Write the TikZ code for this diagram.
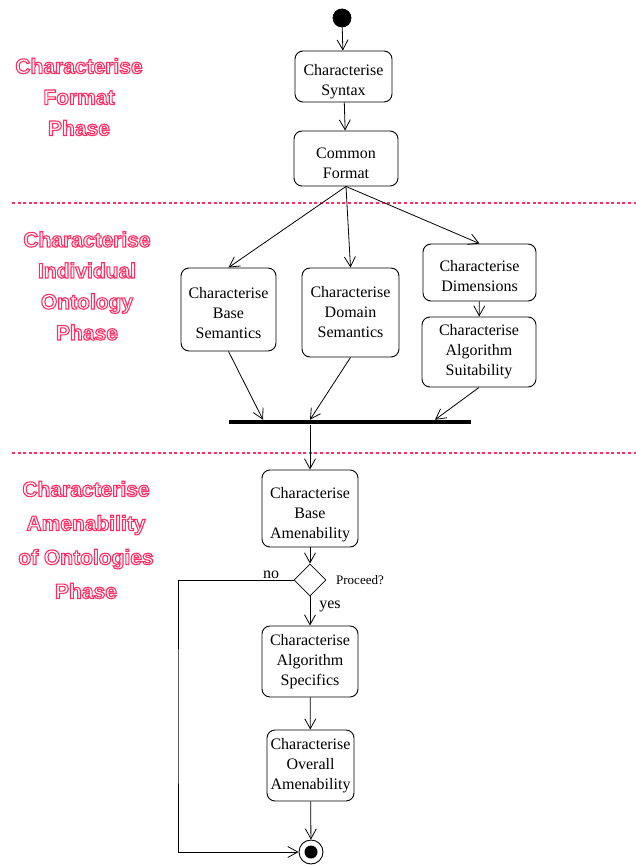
\documentclass[tikz,border=0pt]{standalone}
\usepackage{fontspec}
\setmainfont{Liberation Serif}
\newfontfamily\phasefont{Liberation Sans}
\usetikzlibrary{arrows.meta,shapes.geometric}
\definecolor{phasered}{RGB}{255,45,100}
% hollow lettering for the phase titles
\newcommand\olword[1]{\special{pdf:literal direct 1 Tr 1.1 w}#1\special{pdf:literal direct 0 Tr}}
% extra room above the first line of an action box
\newcommand\lift[1]{\rule{0pt}{#1}}
\tikzset{
  activity/.style = {draw, rounded corners=8pt, align=center, inner sep=0pt,
    line width=0.9pt, font=\fontsize{16}{20}\selectfont},% etat d'action
  initial/.style = {circle, draw, fill=black, minimum size=18pt, inner sep=0pt},% depart
  final/.style = {circle, draw, line width=0.9pt, minimum size=24pt, inner sep=0pt,
    path picture={\fill (path picture bounding box.center) circle (6.5pt);}},% fin
  syncbar/.style = {rectangle, fill=black, minimum width=242pt,
    minimum height=4.5pt, inner sep=0pt},% barre de synchronisation
  choice/.style = {diamond, draw, line width=0.8pt, minimum width=32pt,
    minimum height=32pt, inner sep=0pt, aspect=1},% decision
  guard/.style = {inner sep=0pt, font=\fontsize{16}{20}\selectfont},% garde
  phase/.style = {align=center, inner sep=0pt, text=phasered,
    font=\phasefont\bfseries\fontsize{21}{31}\selectfont},% titre de phase
  divider/.style = {-, phasered, line width=2.8pt, dash pattern=on 3pt off 2.6pt}% separation
}
\begin{document}
\begin{tikzpicture}[->,>={Straight Barb[length=10pt,width=11pt]},line width=0.8pt,
  x=1pt,y=-1pt]
\useasboundingbox (0,0) rectangle (636,866);

% phases
\node [phase] (phformat) at (79,97) {\olword{Characterise}\\\olword{Format}\\\olword{Phase}};
\node [phase] (phindiv) at (87,286) {\olword{Characterise}\\\olword{Individual}\\
  \olword{Ontology}\\\olword{Phase}};
\node [phase, font=\phasefont\bfseries\fontsize{21}{34}\selectfont] (phamen) at (86,540)
  {\olword{Characterise}\\\olword{Amenability}\\\olword{of Ontologies}\\\olword{Phase}};
\draw [divider] (12,203) -- (636,203);
\draw [divider] (12,453) -- (636,453);

% format phase
\node [initial] (start) at (342,18) {};
\node [activity, minimum width=97pt, minimum height=51pt] (syntax) at (343.5,76.5)
  {\lift{22pt}Characterise\\Syntax};
\node [activity, minimum width=104pt, minimum height=55pt] (common) at (346,158.5)
  {\lift{21pt}Common\\Format};

% individual ontology phase
\node [activity, minimum width=95pt, minimum height=83pt] (basesem) at (228.5,309.5)
  {\lift{17.5pt}Characterise\\Base\\Semantics};
\node [activity, minimum width=97pt, minimum height=89pt] (domsem) at (350.5,312.5)
  {Characterise\\Domain\\Semantics};
\node [activity, minimum width=113pt, minimum height=57pt] (dims) at (479.5,272.5)
  {\lift{18pt}Characterise\\Dimensions};
\node [activity, minimum width=114pt, minimum height=70pt] (algsuit) at (479,352)
  {Characterise\\Algorithm\\Suitability};
\node [syncbar] (bar) at (350,422) {};
\coordinate (join1) at (263,419.75);
\coordinate (join2) at (310,419.75);
\coordinate (join3) at (435,419.75);

% amenability phase
\node [activity, minimum width=96pt, minimum height=77pt] (baseamen) at (310,508.5)
  {\lift{23pt}Characterise\\Base\\Amenability};
\node [choice] (proceed) at (310,580) {};
\node [activity, minimum width=96pt, minimum height=71pt] (algspec) at (310,661.5)
  {Characterise\\Algorithm\\Specifics};
\node [activity, minimum width=87pt, minimum height=71pt] (overall) at (310.5,765.5)
  {Characterise\\Overall\\Amenability};
\node [final] (finish) at (311,852) {};
\coordinate (noturn) at (178,716);
\node [guard] (nolbl) at (271,575) {no};
\node [guard, font=\fontsize{13}{16}\selectfont] (asklbl) at (360,580) {Proceed?};
\node [guard] (yeslbl) at (330,606) {yes};

% transitions
\draw (start) -- (syntax);
\draw (syntax) -- (common);
\draw (common.south) -- (basesem.north);
\draw (common.south) -- (domsem.north);
\draw (common.south) -- (dims.north);
\draw (dims) -- (algsuit);
\draw (basesem.south) -- (join1);
\draw (domsem.south) -- (join2);
\draw (algsuit.south) -- (join3);
\draw (bar.south -| baseamen) -- (baseamen);
\draw (baseamen) -- (proceed);
\draw (proceed) -- (algspec);
\draw (algspec) -- (overall);
\draw (overall) -- (finish);
\draw (proceed.west) -| (noturn) |- (finish);
\end{tikzpicture}
\end{document}
